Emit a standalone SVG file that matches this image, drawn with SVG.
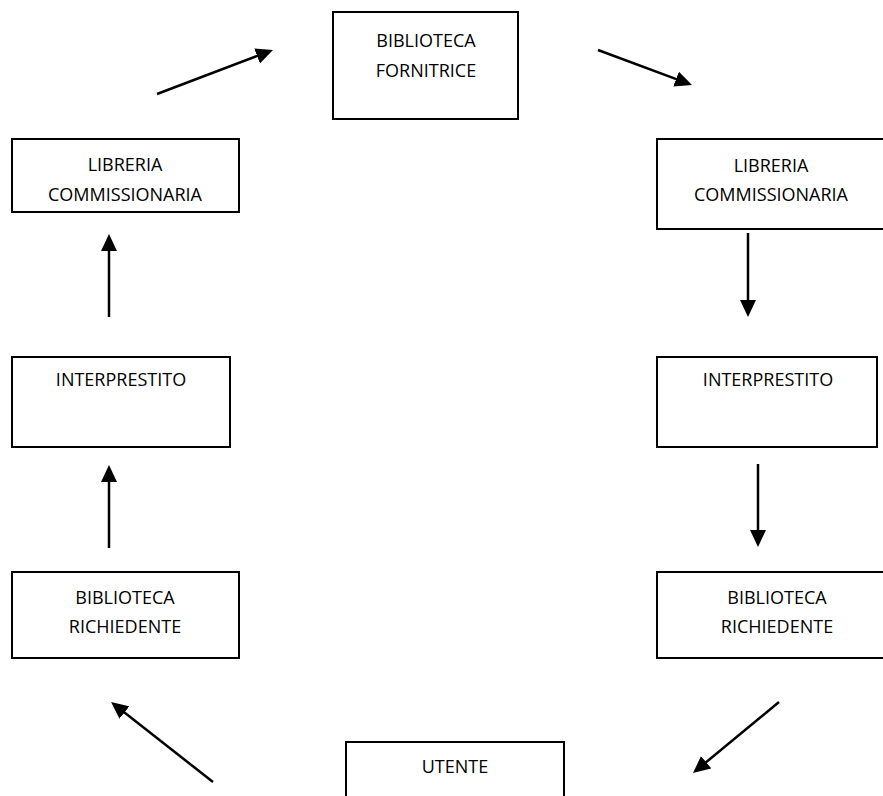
<svg xmlns="http://www.w3.org/2000/svg" width="883" height="796" viewBox="0 0 883 796">
<style>
.box{fill:#fff;stroke:#000;stroke-width:2}
.lbl{font-family:"Open Sans","Liberation Sans",sans-serif;font-size:18px;fill:#000;text-anchor:middle}
.conn{stroke:#000;stroke-width:2.5;fill:none;marker-end:url(#ah)}
</style>
<defs>
<marker id="ah" markerUnits="userSpaceOnUse" markerWidth="17" markerHeight="16" refX="6" refY="8" orient="auto">
<path d="M0,0 L17,8 L0,16 z" fill="#000"/>
</marker>
</defs>
<rect width="883" height="796" fill="#fff"/>
<g id="connectors">
<line class="conn" x1="157" y1="94" x2="262.7" y2="53.9"/>
<line class="conn" x1="598" y1="50" x2="681.7" y2="81.2"/>
<line class="conn" x1="748" y1="233" x2="748" y2="306"/>
<line class="conn" x1="758" y1="464" x2="758" y2="536"/>
<line class="conn" x1="779" y1="702" x2="701.5" y2="766"/>
<line class="conn" x1="213" y1="782" x2="119.7" y2="708.8"/>
<line class="conn" x1="109" y1="548" x2="109" y2="476"/>
<line class="conn" x1="109" y1="317" x2="109" y2="245"/>
</g>
<g id="biblioteca-fornitrice">
<rect class="box" x="333" y="12" width="185" height="107"/>
<text class="lbl" x="426" y="47">BIBLIOTECA</text>
<text class="lbl" x="426" y="77">FORNITRICE</text>
</g>
<g id="libreria-commissionaria-left">
<rect class="box" x="12" y="139" width="227" height="73"/>
<text class="lbl" x="125" y="171">LIBRERIA</text>
<text class="lbl" x="125" y="201">COMMISSIONARIA</text>
</g>
<g id="libreria-commissionaria-right">
<rect class="box" x="657" y="139" width="240" height="90"/>
<text class="lbl" x="771" y="172">LIBRERIA</text>
<text class="lbl" x="771" y="201">COMMISSIONARIA</text>
</g>
<g id="interprestito-left">
<rect class="box" x="12" y="357" width="218" height="90"/>
<text class="lbl" x="121" y="386">INTERPRESTITO</text>
</g>
<g id="interprestito-right">
<rect class="box" x="657" y="357" width="220" height="90"/>
<text class="lbl" x="768" y="386">INTERPRESTITO</text>
</g>
<g id="biblioteca-richiedente-left">
<rect class="box" x="12" y="572" width="227" height="86"/>
<text class="lbl" x="125" y="604">BIBLIOTECA</text>
<text class="lbl" x="125" y="633">RICHIEDENTE</text>
</g>
<g id="biblioteca-richiedente-right">
<rect class="box" x="657" y="572" width="240" height="86"/>
<text class="lbl" x="777" y="604">BIBLIOTECA</text>
<text class="lbl" x="777" y="633">RICHIEDENTE</text>
</g>
<g id="utente">
<rect class="box" x="346" y="742" width="218" height="80"/>
<text class="lbl" x="455" y="773">UTENTE</text>
</g>
</svg>
